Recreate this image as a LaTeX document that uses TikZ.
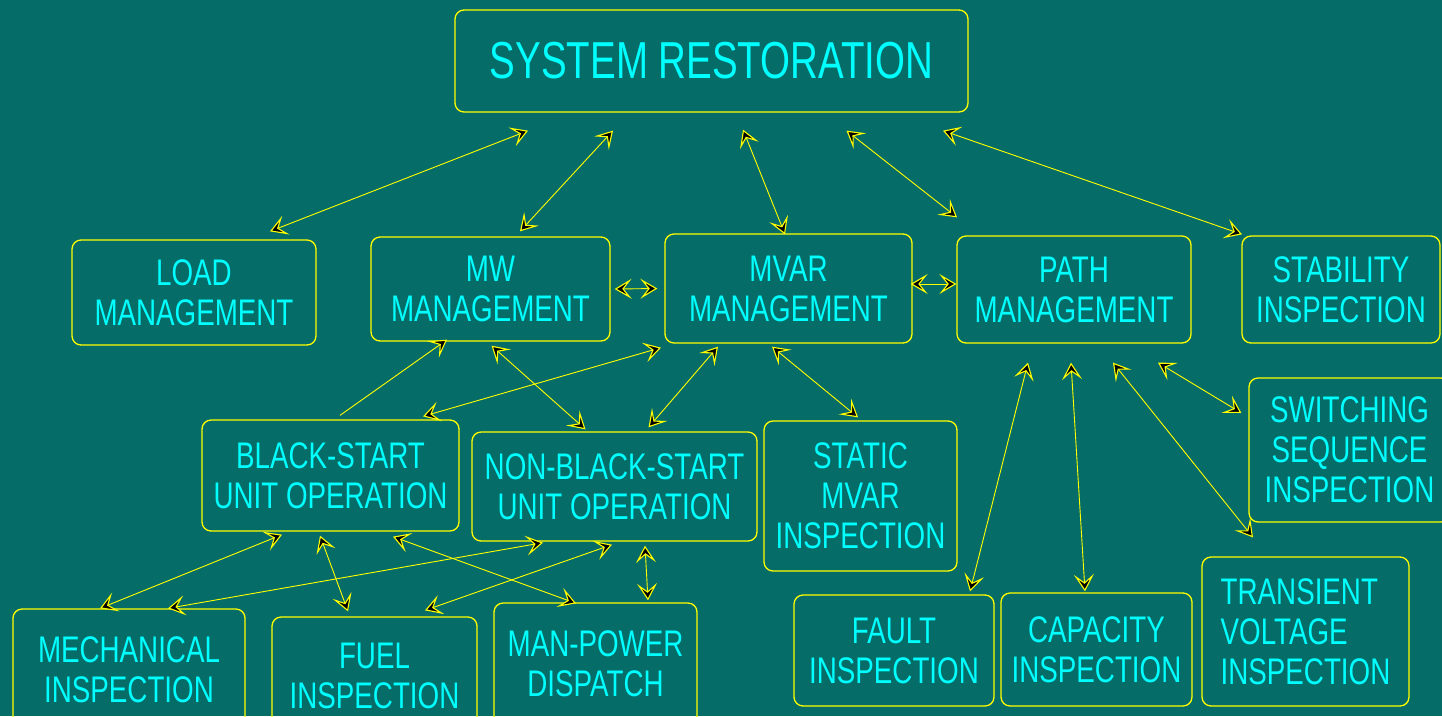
\documentclass[tikz,border=0pt]{standalone}
\usepackage{fontspec}
\setmainfont{Liberation Sans}[FakeStretch=0.75]
\newfontfamily\titlefont{Liberation Sans}[FakeStretch=0.74]
\usetikzlibrary{arrows.meta}
\definecolor{bgteal}{RGB}{6,108,104}
\definecolor{txtcyan}{RGB}{0,255,255}
\definecolor{lineyellow}{RGB}{255,255,0}

\begin{document}
\begin{tikzpicture}[x=1pt, y=-1pt,
	box/.style={draw=lineyellow, line width=1.3pt, rounded corners=9pt, text=txtcyan, align=center, inner sep=0pt, font=\fontsize{37}{40}\selectfont},
	link/.style={draw=lineyellow, line width=0.9pt, <->, >={Stealth[length=17pt, width=20pt, inset=8pt, fill=black, line width=1.1pt]}}
	]
	\useasboundingbox (0,0) rectangle (1442,716);
	\fill[bgteal] (0,0) rectangle (1442,716);

	\node[box, minimum width=513pt, minimum height=102pt, font=\titlefont\fontsize{52}{60}\selectfont] (sys) at (711.5,61) {SYSTEM RESTORATION};
	\node[box, minimum width=244pt, minimum height=105pt] (load) at (194,292.5) {LOAD\\MANAGEMENT};
	\node[box, minimum width=239pt, minimum height=104pt] (mw) at (490.5,289) {MW\\MANAGEMENT};
	\node[box, minimum width=247pt, minimum height=109pt] (mvar) at (788.5,288.5) {MVAR\\MANAGEMENT};
	\node[box, minimum width=234pt, minimum height=107pt] (path) at (1074,289.5) {PATH\\MANAGEMENT};
	\node[box, minimum width=198pt, minimum height=107pt] (stab) at (1341,289.5) {STABILITY\\INSPECTION};
	\node[box, minimum width=201pt, minimum height=144pt] (switch) at (1349.5,450) {SWITCHING\\SEQUENCE\\INSPECTION};
	\node[box, minimum width=257pt, minimum height=111pt] (bs) at (330.5,475.5) {BLACK-START\\UNIT OPERATION};
	\node[box, minimum width=285pt, minimum height=109pt] (nbs) at (614.5,486.5) {NON-BLACK-START\\UNIT OPERATION};
	\node[box, minimum width=193pt, minimum height=150pt] (static) at (860.5,496) {STATIC\\MVAR\\INSPECTION};
	\node[box, minimum width=232pt, minimum height=121pt] (mech) at (129,669.5) {MECHANICAL\\INSPECTION};
	\node[box, minimum width=205pt, minimum height=118pt] (fuel) at (374.5,676) {FUEL\\INSPECTION};
	\node[box, minimum width=203pt, minimum height=122pt] (manp) at (595.5,664) {MAN-POWER\\DISPATCH};
	\node[box, minimum width=200pt, minimum height=111pt] (fault) at (894,650.5) {FAULT\\INSPECTION};
	\node[box, minimum width=191pt, minimum height=113pt] (cap) at (1096.5,649.5) {CAPACITY\\INSPECTION};
	\node[box, minimum width=207pt, minimum height=149pt, align=left] (trans) at (1305.5,631.5) {TRANSIENT\\VOLTAGE\\INSPECTION};

	\draw[link] ([shift={(76,-8)}]load.north) -- ([shift={(-183.5,18)}]sys.south);
	\draw[link] ([shift={(29.5,-5)}]mw.north) -- ([shift={(-98.5,18)}]sys.south);
	\draw[link] ([shift={(-3.5,1)}]mvar.north) -- ([shift={(31.5,17)}]sys.south);
	\draw[link] ([shift={(-117,-18)}]path.north) -- ([shift={(135,18)}]sys.south);
	\draw[link] ([shift={(-99,-1)}]stab.north) -- ([shift={(231.5,18)}]sys.south);
	\draw[link] ([shift={(4,0)}]mw.east) -- ([shift={(-7,0)}]mvar.west);
	\draw[link] ([shift={(-2,-4.5)}]mvar.east) -- ([shift={(0,-5.5)}]path.west);
	\draw[link, ->] ([shift={(9.5,-4)}]bs.north) -- ([shift={(-43.5,-2)}]mw.south);
	\draw[link] ([shift={(92.5,-3)}]bs.north) -- ([shift={(-127.5,4)}]mvar.south);
	\draw[link] ([shift={(1,4)}]mw.south) -- ([shift={(-29,-2)}]nbs.north);
	\draw[link] ([shift={(-70.5,3)}]mvar.south) -- ([shift={(34,-4)}]nbs.north);
	\draw[link] ([shift={(-16.5,3)}]mvar.south) -- ([shift={(-2.5,-3)}]static.north);
	\draw[link] ([shift={(-46,19)}]path.south) -- ([shift={(76,-3)}]fault.north);
	\draw[link] ([shift={(-3,19)}]path.south) -- ([shift={(-11.5,-1)}]cap.north);
	\draw[link] ([shift={(39,19)}]path.south) -- ([shift={(-52.5,-19)}]trans.north);
	\draw[link] ([shift={(84,19)}]path.south) -- ([shift={(-7,-37)}]switch.west);
	\draw[link] ([shift={(-48.5,3)}]bs.south) -- ([shift={(-29,0)}]mech.north);
	\draw[link] ([shift={(-10.5,4)}]bs.south) -- ([shift={(-26.5,-5)}]fuel.north);
	\draw[link] ([shift={(62.5,5)}]bs.south) -- ([shift={(-19.5,1)}]manp.north);
	\draw[link] ([shift={(-71.5,1)}]nbs.south) -- ([shift={(39,0)}]mech.north);
	\draw[link] ([shift={(-2.5,3)}]nbs.south) -- ([shift={(50.5,-6)}]fuel.north);
	\draw[link] ([shift={(30.5,4)}]nbs.south) -- ([shift={(52.5,-2)}]manp.north);
\end{tikzpicture}
\end{document}
